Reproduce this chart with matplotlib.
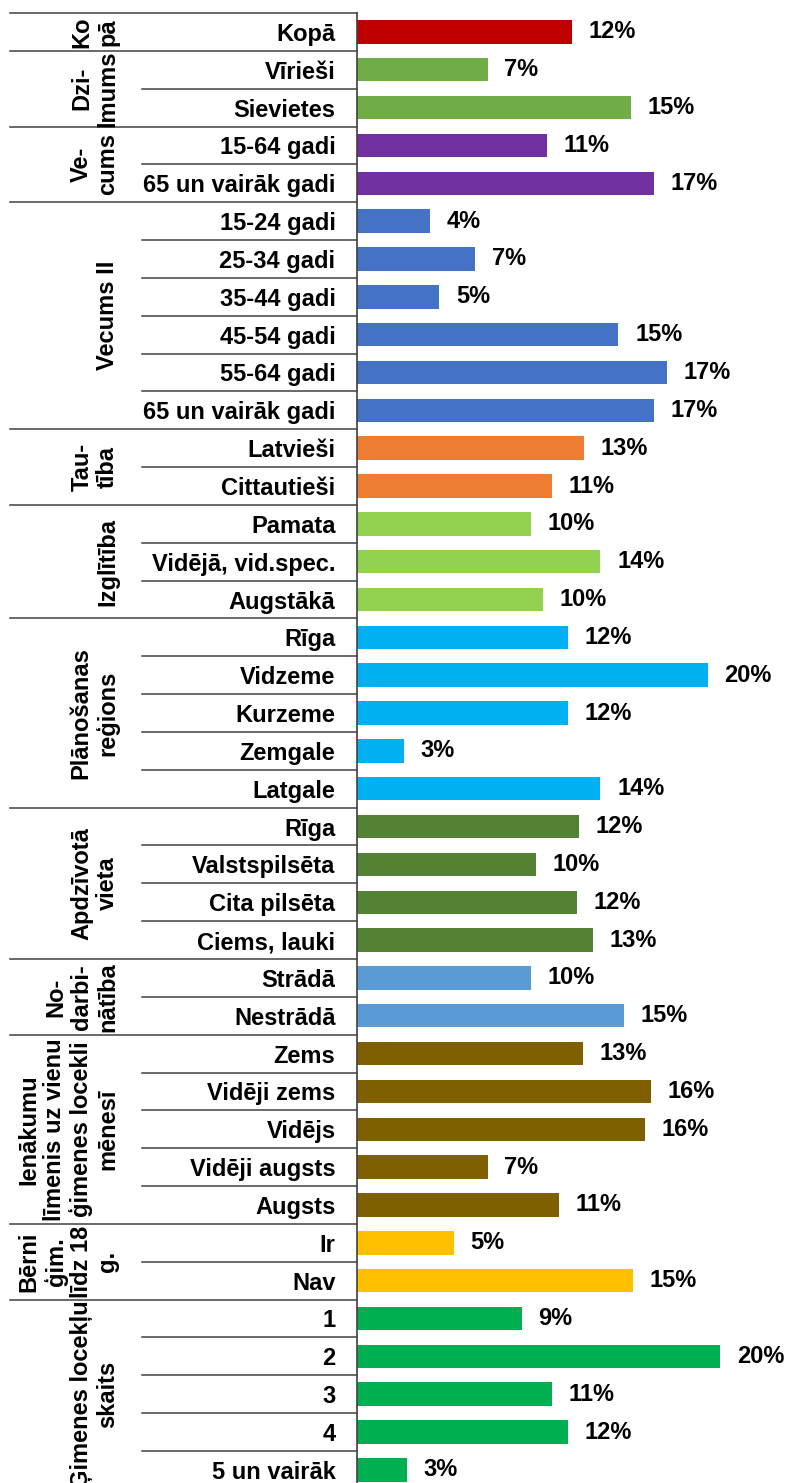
import matplotlib.pyplot as plt
import matplotlib.transforms as mtransforms

plt.rcParams['font.family'] = ['Liberation Sans', 'DejaVu Sans']
plt.rcParams['font.weight'] = 'bold'

groups = ["Ko\npā", "Dzi-\nlmums", "Ve-\ncums", "Vecums II", "Tau-\ntība", "Izglītība",
          "Plānošanas\nreģions", "Apdzīvotā\nvieta", "No-\ndarbi-\nnātība",
          "Ienākumu\nlīmenis uz vienu\nģimenes locekli\nmēnesī",
          "Bērni\nģim.\nlīdz 18\ng.", "Ģimenes locekļu\nskaits"]
group_sizes = [1, 2, 2, 6, 2, 3, 5, 4, 2, 5, 2, 5]
group_colors = ["#C00000", "#70AD47", "#7030A0", "#4472C4", "#ED7D31", "#92D050",
                "#00B0F0", "#548235", "#5B9BD5", "#7F6000", "#FFC000", "#00B050"]

categories = ["Kopā",
              "Vīrieši", "Sievietes",
              "15-64 gadi", "65 un vairāk gadi",
              "15-24 gadi", "25-34 gadi", "35-44 gadi", "45-54 gadi", "55-64 gadi", "65 un vairāk gadi",
              "Latvieši", "Cittautieši",
              "Pamata", "Vidējā, vid.spec.", "Augstākā",
              "Rīga", "Vidzeme", "Kurzeme", "Zemgale", "Latgale",
              "Rīga", "Valstspilsēta", "Cita pilsēta", "Ciems, lauki",
              "Strādā", "Nestrādā",
              "Zems", "Vidēji zems", "Vidējs", "Vidēji augsts", "Augsts",
              "Ir", "Nav",
              "1", "2", "3", "4", "5 un vairāk"]
values = [12.0,
          7.3, 15.3,
          10.6, 16.6,
          4.1, 6.6, 4.6, 14.6, 17.3, 16.6,
          12.7, 10.9,
          9.7, 13.6, 10.4,
          11.8, 19.6, 11.8, 2.6, 13.6,
          12.4, 10.0, 12.3, 13.2,
          9.7, 14.9,
          12.6, 16.4, 16.1, 7.3, 11.3,
          5.4, 15.4,
          9.2, 20.3, 10.9, 11.8, 2.8]

W, H = 785, 1483
fig = plt.figure(figsize=(W / 100, H / 100), dpi=100)
ax = fig.add_axes([357 / W, 0, 1 - 357 / W, (H - 13) / H])

colors = []
for c, n in zip(group_colors, group_sizes):
    colors += [c] * n

ypos = list(range(len(categories)))
ax.barh(ypos, values, height=0.62, color=colors)
ax.set_xlim(0, (W - 357) / 17.9)
ax.set_ylim(-0.5 + (H - 13) / 37.84, -0.5)

for y, v in zip(ypos, values):
    ax.annotate(f"{round(v):.0f}%", (v, y), xytext=(12, 0), textcoords='offset points',
                va='center', ha='left', fontsize=17, fontweight='bold')

ax.set_yticks(ypos)
ax.set_yticklabels(categories, fontsize=17, fontweight='bold')
ax.tick_params(axis='y', length=0, pad=15.5)
ax.set_xticks([])
for s in ['top', 'right', 'bottom']:
    ax.spines[s].set_visible(False)
ax.spines['left'].set_color('#404040')
ax.spines['left'].set_linewidth(1.2)

tr = mtransforms.blended_transform_factory(fig.transFigure, ax.transData)
line_kw = dict(color='#404040', lw=1.1, transform=tr, clip_on=False)

start = 0
ax.plot([10 / W, 357 / W], [-0.5, -0.5], **line_kw)
for g, n in zip(groups, group_sizes):
    end = start + n
    for k in range(start + 1, end):
        ax.plot([142 / W, 357 / W], [k - 0.5, k - 0.5], **line_kw)
    ax.plot([10 / W, 357 / W], [end - 0.5, end - 0.5], **line_kw)
    ax.text(119 / W, (start + end - 1) / 2, g, transform=tr, rotation=90,
            ha='right', va='center', multialignment='center',
            fontsize=17, fontweight='bold', linespacing=1.15, clip_on=False)
    start = end

fig.savefig("out.png", dpi=100)
